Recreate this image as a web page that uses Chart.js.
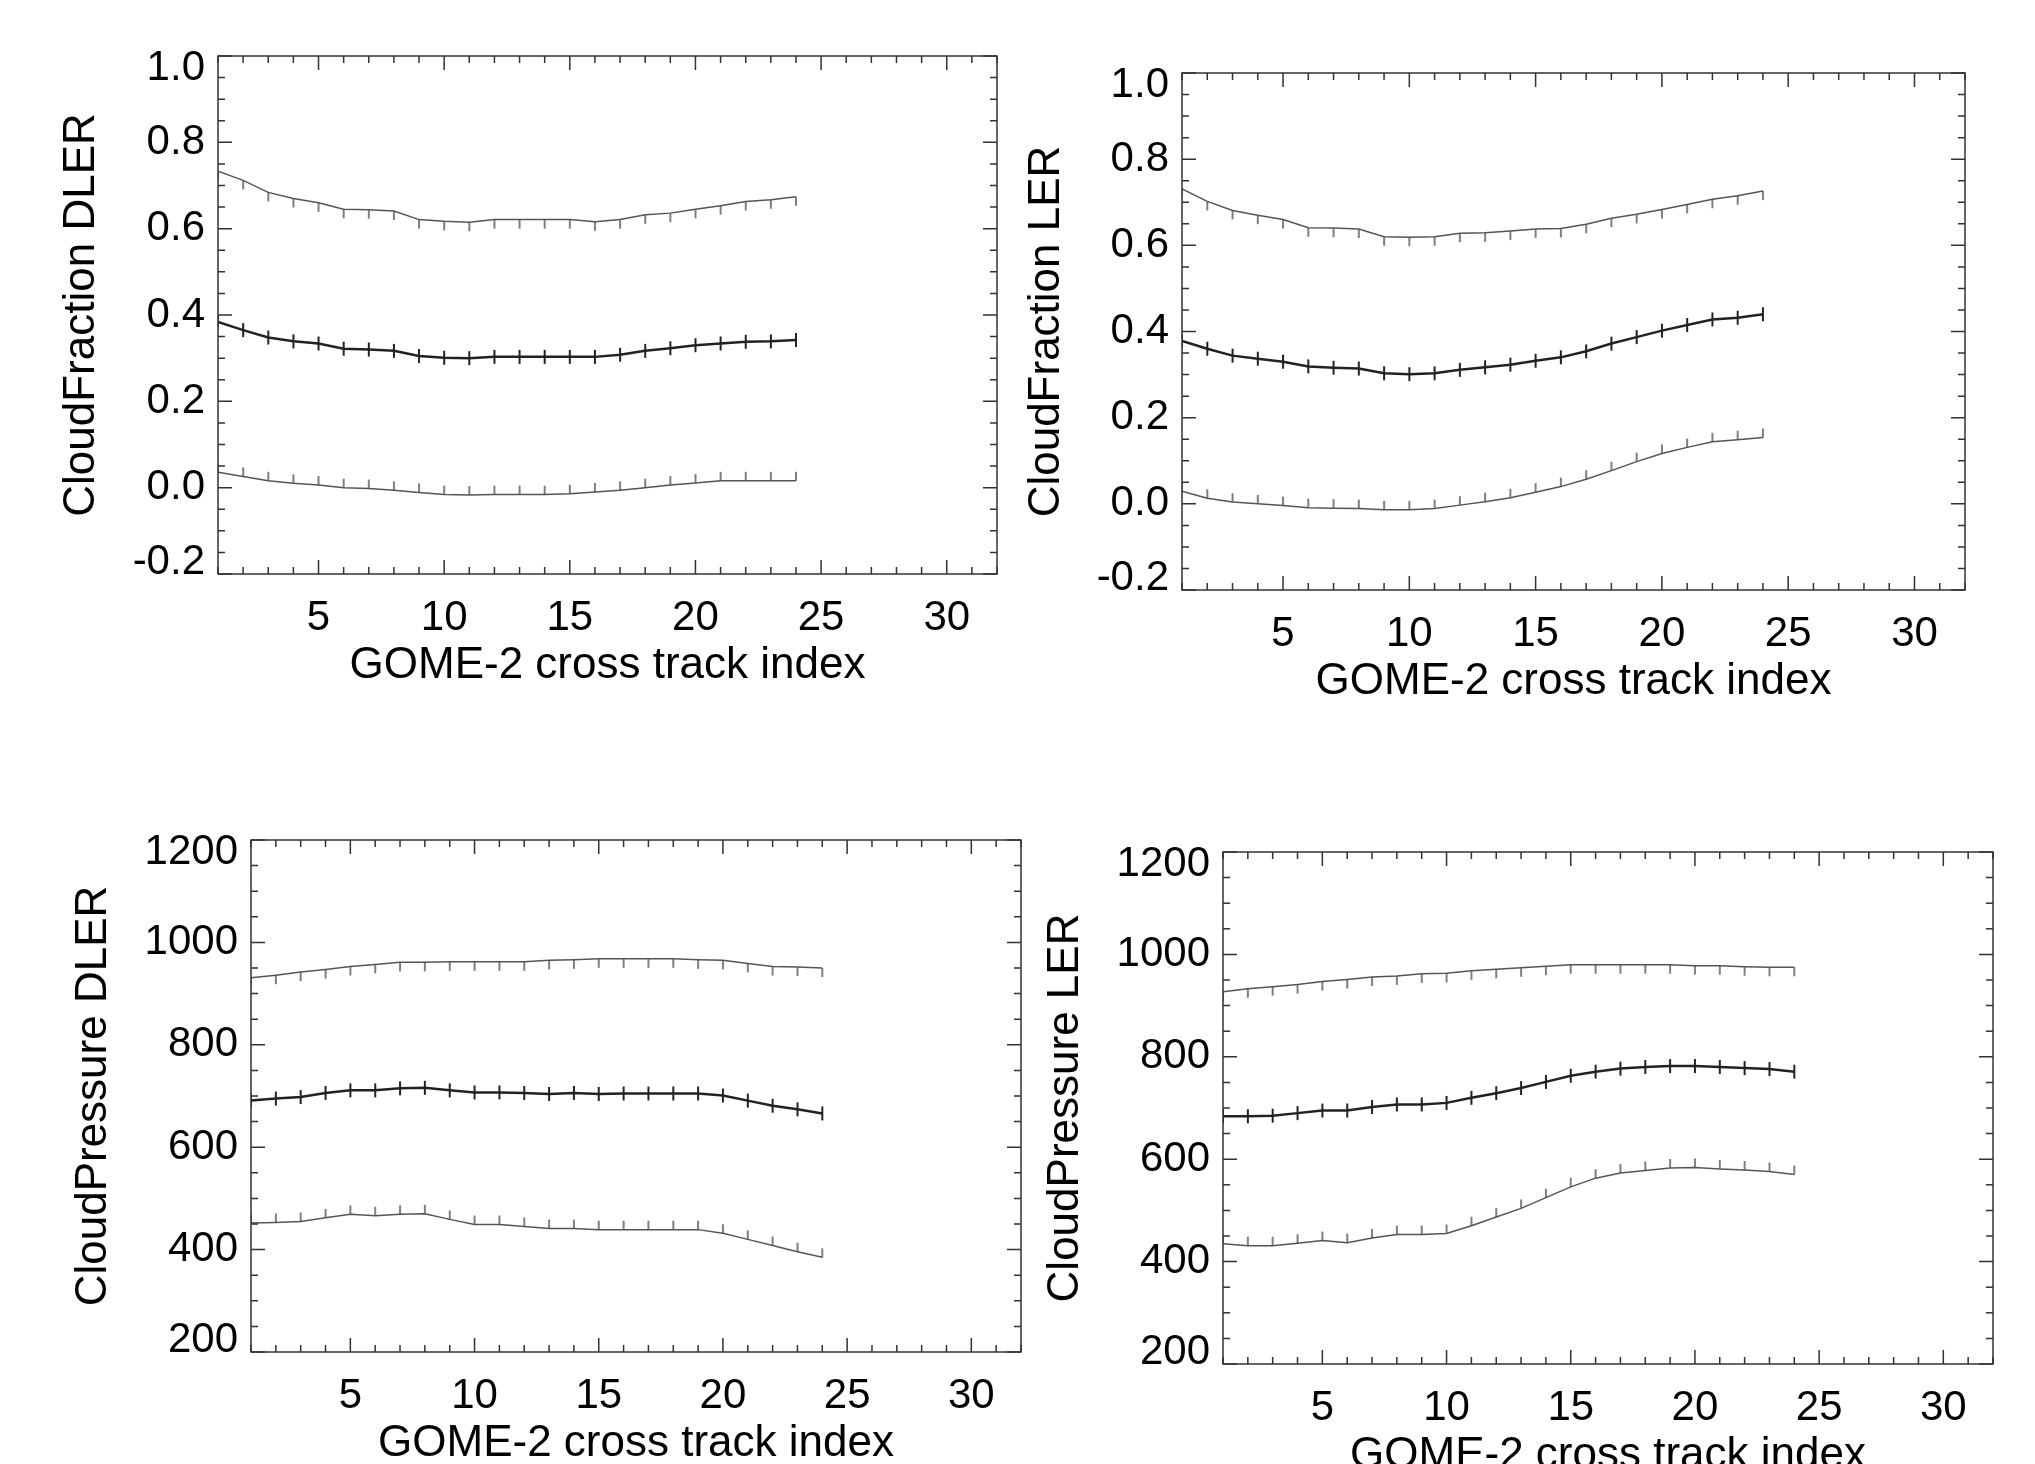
<!DOCTYPE html>
<html>
<head>
<meta charset="utf-8">
<script src="https://cdn.jsdelivr.net/npm/chart.js@4.4.1/dist/chart.umd.min.js"></script>
<style>
  html, body { margin: 0; padding: 0; background: #fff; overflow: hidden; }
  body { width: 2035px; height: 1464px; position: relative; }
  canvas { position: absolute; }
</style>
</head>
<body>
<canvas id="c1"></canvas>
<canvas id="c2"></canvas>
<canvas id="c3"></canvas>
<canvas id="c4"></canvas>
<script>
// cross track index (x)
const track = [1,2,3,4,5,6,7,8,9,10,11,12,13,14,15,16,17,18,19,20,21,22,23,24];
const xLabels = [5, 10, 15, 20, 25, 30];
const fracLabels = [-0.2, 0.0, 0.2, 0.4, 0.6, 0.8, 1.0];
const pressLabels = [200, 400, 600, 800, 1000, 1200];

// CloudFraction DLER
const cfDlerHigh = [0.733,0.712,0.684,0.670,0.660,0.645,0.644,0.641,0.621,0.617,0.615,0.621,0.621,0.621,0.621,0.616,0.621,0.632,0.636,0.645,0.653,0.663,0.667,0.674];
const cfDlerMean = [0.384,0.365,0.348,0.339,0.334,0.322,0.320,0.317,0.305,0.301,0.300,0.303,0.303,0.303,0.303,0.303,0.308,0.317,0.323,0.330,0.334,0.338,0.339,0.342];
const cfDlerLow  = [0.036,0.026,0.016,0.010,0.006,0.000,-0.002,-0.006,-0.011,-0.016,-0.017,-0.016,-0.016,-0.016,-0.014,-0.010,-0.006,0.000,0.006,0.011,0.016,0.016,0.016,0.016];

// CloudFraction LER
const cfLerHigh = [0.731,0.702,0.681,0.670,0.660,0.641,0.640,0.638,0.620,0.619,0.620,0.628,0.629,0.633,0.638,0.639,0.649,0.663,0.672,0.683,0.695,0.707,0.715,0.726];
const cfLerMean = [0.378,0.360,0.344,0.337,0.330,0.319,0.316,0.314,0.303,0.301,0.303,0.311,0.317,0.323,0.332,0.340,0.354,0.372,0.387,0.402,0.415,0.428,0.432,0.440];
const cfLerLow  = [0.029,0.013,0.004,0.000,-0.004,-0.009,-0.010,-0.011,-0.014,-0.014,-0.011,-0.003,0.005,0.014,0.027,0.040,0.057,0.077,0.098,0.117,0.131,0.144,0.149,0.154];

// CloudPressure DLER
const cpDlerHigh = [931,936,942,947,953,957,961,961,962,962,962,962,965,966,968,968,968,968,966,965,959,953,952,950];
const cpDlerMean = [691,695,698,706,711,711,715,716,711,707,707,706,704,706,704,705,705,705,705,701,691,681,674,666];
const cpDlerLow  = [452,453,455,462,469,466,469,470,459,449,449,445,441,441,439,439,439,439,439,432,420,408,396,385];

// CloudPressure LER
const cpLerHigh = [927,933,937,941,947,951,956,958,962,963,968,971,974,977,980,980,980,980,980,978,978,976,975,975];
const cpLerMean = [684,684,685,690,695,695,702,707,707,710,720,729,739,751,763,771,777,780,782,782,780,778,776,771];
const cpLerLow  = [435,431,431,436,441,437,446,453,453,455,470,487,504,525,546,563,573,578,583,584,581,579,576,570];

const FONT = "'Liberation Sans', Arial, Helvetica, sans-serif";

// small vertical bars drawn at every point (as point images)
function markImg(up, down, width, color){
  const c = document.createElement('canvas');
  c.width = 4;
  c.height = 2 * Math.max(up, down) + 2;
  const g = c.getContext('2d');
  const cy = c.height / 2;
  g.strokeStyle = color;
  g.lineWidth = width;
  g.beginPath();
  g.moveTo(2, cy - up);
  g.lineTo(2, cy + down);
  g.stroke();
  return c;
}
const markDown = markImg(0, 9, 1.5, '#555');
const markUp = markImg(9, 0, 1.5, '#555');
const markBoth = markImg(7, 7, 2, '#222');

// frame + inward ticks on all four sides, like IDL
const frameTicks = {
  id: 'frameTicks',
  afterDatasetsDraw(chart){
    const ctx = chart.ctx;
    const a = chart.chartArea;
    const xs = chart.scales.x, ys = chart.scales.y;
    ctx.save();
    ctx.strokeStyle = '#333';
    ctx.lineWidth = 1.5;
    ctx.strokeRect(a.left, a.top, a.right - a.left, a.bottom - a.top);
    ctx.beginPath();
    xs.ticks.forEach(t => {
      const px = xs.getPixelForValue(t.value);
      const len = xLabels.includes(t.value) ? 14 : 7;
      ctx.moveTo(px, a.bottom); ctx.lineTo(px, a.bottom - len);
      ctx.moveTo(px, a.top); ctx.lineTo(px, a.top + len);
    });
    const yl = chart.options.yLabelVals;
    ys.ticks.forEach(t => {
      const py = ys.getPixelForValue(t.value);
      const len = yl.some(v => Math.abs(v - t.value) < 1e-9) ? 14 : 7;
      ctx.moveTo(a.left, py); ctx.lineTo(a.left + len, py);
      ctx.moveTo(a.right, py); ctx.lineTo(a.right - len, py);
    });
    ctx.stroke();
    ctx.restore();
  }
};

function makePanel(id, box, yTitle, yMin, yMax, yStep, yLabelVals, digits, titlePad, high, mean, low){
  const cv = document.getElementById(id);
  // chart area = frame; 200px left for y labels, 130px below for x labels
  const W = box.r - box.l + 230, H = box.b - box.t + 160;
  cv.width = W; cv.height = H;
  cv.style.left = (box.l - 200) + 'px';
  cv.style.top = (box.t - 30) + 'px';
  cv.style.width = W + 'px';
  cv.style.height = H + 'px';

  const toPts = arr => track.map((t, i) => ({x: t, y: arr[i]}));
  const isEnd = c => c.tick && (Math.abs(c.tick.value - yMin) < 1e-9 || Math.abs(c.tick.value - yMax) < 1e-9);

  return new Chart(cv, {
    type: 'line',
    data: {
      datasets: [{
        data: toPts(high),
        borderColor: '#555', borderWidth: 1.5,
        pointStyle: markDown, pointRadius: 3
      },{
        data: toPts(mean),
        borderColor: '#222', borderWidth: 2.5,
        pointStyle: markBoth, pointRadius: 3
      },{
        data: toPts(low),
        borderColor: '#555', borderWidth: 1.5,
        pointStyle: markUp, pointRadius: 3
      }]
    },
    options: {
      responsive: false,
      animation: false,
      yLabelVals: yLabelVals,
      layout: { padding: { left: 0, top: 30, right: 30, bottom: 0 } },
      plugins: { legend: { display: false }, tooltip: { enabled: false } },
      elements: { line: { tension: 0 } },
      scales: {
        x: {
          type: 'linear', min: 1, max: 32,
          grid: { display: false, drawTicks: false }, border: { display: false },
          afterBuildTicks: s => { const t = []; for (let v = 1; v <= 32; v++) t.push({value: v}); s.ticks = t; },
          afterFit: s => { s.height = 130; s.paddingLeft = 0; s.paddingRight = 0; },
          ticks: {
            autoSkip: false, maxRotation: 0, padding: 19, color: '#000',
            font: { family: FONT, size: 42 },
            callback: v => xLabels.includes(v) ? String(v) : ''
          },
          title: {
            display: true, text: 'GOME-2 cross track index', color: '#000',
            font: { family: FONT, size: 44 }, padding: { top: 0, bottom: 12 }
          }
        },
        y: {
          type: 'linear', min: yMin, max: yMax,
          grid: { display: false, drawTicks: false }, border: { display: false },
          afterBuildTicks: s => {
            const t = [];
            const n = Math.round((yMax - yMin) / yStep);
            for (let k = 0; k <= n; k++) t.push({value: Math.round((yMin + k * yStep) * 1e6) / 1e6});
            s.ticks = t;
          },
          afterFit: s => { s.width = 200; s.paddingTop = 0; s.paddingBottom = 0; },
          ticks: {
            autoSkip: false, padding: 13, color: '#000',
            font: c => ({ family: FONT, size: 42, lineHeight: isEnd(c) ? '24px' : 1.2 }),
            callback: (v, i, ticks) => {
              if (!yLabelVals.some(l => Math.abs(l - v) < 1e-9)) return '';
              const s = v.toFixed(digits);
              // end labels sit a bit inside the frame
              if (i === 0) return [s, ''];
              if (i === ticks.length - 1) return ['', s];
              return s;
            }
          },
          title: {
            display: true, text: yTitle, color: '#000',
            font: { family: FONT, size: 44 }, padding: { top: titlePad, bottom: 0 }
          }
        }
      }
    },
    plugins: [frameTicks]
  });
}

makePanel('c1', {l: 218, r: 997, t: 56, b: 574}, 'CloudFraction DLER', -0.2, 1.0, 0.05, fracLabels, 1, 37, cfDlerHigh, cfDlerMean, cfDlerLow);
makePanel('c2', {l: 1182, r: 1965, t: 73, b: 590}, 'CloudFraction LER', -0.2, 1.0, 0.05, fracLabels, 1, 38, cfLerHigh, cfLerMean, cfLerLow);
makePanel('c3', {l: 251, r: 1021, t: 840, b: 1352}, 'CloudPressure DLER', 200, 1200, 50, pressLabels, 0, 16, cpDlerHigh, cpDlerMean, cpDlerLow);
makePanel('c4', {l: 1223, r: 1993, t: 852, b: 1364}, 'CloudPressure LER', 200, 1200, 50, pressLabels, 0, 16, cpLerHigh, cpLerMean, cpLerLow);
</script>
</body>
</html>
